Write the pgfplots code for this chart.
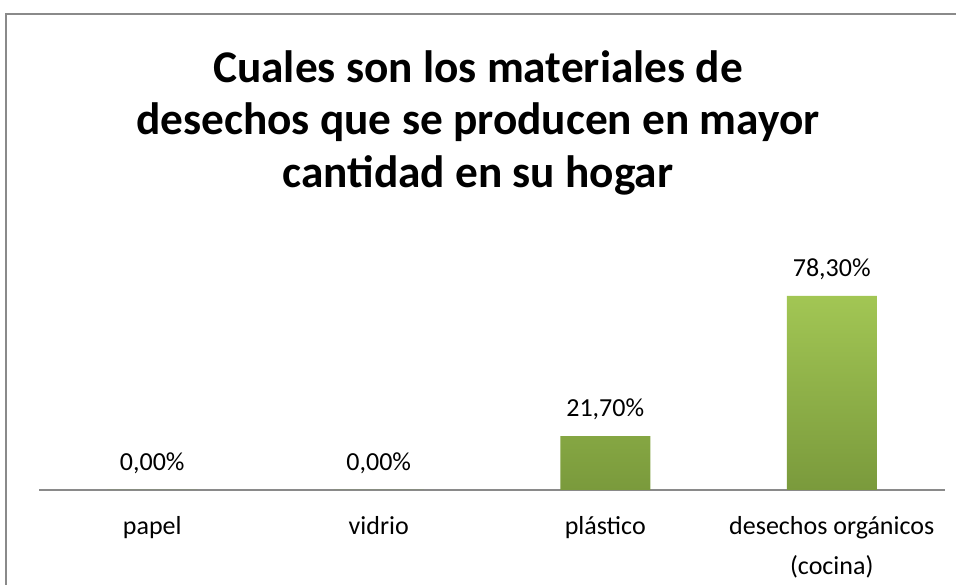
\documentclass[border=0pt]{standalone}
\usepackage{pgfplots}
\pgfplotsset{compat=1.18}
\usepackage{fontspec}
\setmainfont{Carlito}
\definecolor{bartop}{HTML}{A2C654}
\definecolor{barbot}{HTML}{7A9A3C}
\definecolor{frame}{HTML}{8A8A8A}
\begin{document}
\begin{tikzpicture}
% page: 956x585 px at 0.75pt per px
\useasboundingbox (0pt,0pt) rectangle (717pt,438.75pt);
\draw[frame, line width=1.5pt] (4.5pt,-5pt) -- (4.5pt,428.25pt) -- (720pt,428.25pt);
\node[anchor=base, font=\fontsize{34}{41}\selectfont\bfseries] at (358.5pt,376.5pt) {Cuales son los materiales de};
\node[anchor=base, font=\fontsize{34}{41}\selectfont\bfseries] at (358.5pt,337.5pt) {desechos que se producen en mayor};
\node[anchor=base, font=\fontsize{34}{41}\selectfont\bfseries] at (358.5pt,297.75pt) {cantidad en su hogar};
\begin{axis}[
    at={(29.25pt,71.25pt)}, anchor=south west,
    scale only axis,
    width=679.5pt, height=167.25pt,
    xmin=-0.5, xmax=3.5, ymin=0, ymax=90,
    axis y line=none,
    axis x line=bottom,
    x axis line style={-, frame, line width=1.5pt},
    xtick=data,
    xticklabels={papel, vidrio, plástico, {desechos orgánicos\\(cocina)}},
    xticklabel style={align=center, font=\fontsize{19.5}{30}\selectfont, yshift=-16pt},
    major tick length=0pt,
    ytick=\empty,
    clip=false,
    ybar, bar width=67.5pt,
    nodes near coords,
    point meta=explicit symbolic,
    every node near coord/.append style={font=\fontsize{19.5}{24}\selectfont, inner sep=0pt, yshift=12pt, anchor=south},
]
\addplot[draw=none, top color=bartop, bottom color=barbot] coordinates {
    (0,0) [0,00\%]
    (1,0) [0,00\%]
    (2,21.7) [21,70\%]
    (3,78.3) [78,30\%]
};
\end{axis}
\end{tikzpicture}
\end{document}
